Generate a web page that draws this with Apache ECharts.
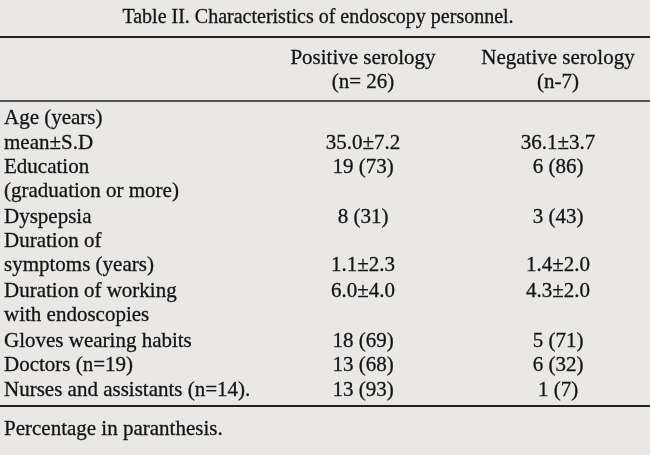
<!DOCTYPE html>
<html><head><meta charset="utf-8">
<script src="https://cdn.jsdelivr.net/npm/echarts@6/dist/echarts.min.js"></script>
<style>html,body{margin:0;background:#e9e8e6}#c{width:650px;height:455px}</style>
</head><body><div id="c"></div>
<script>
const title = 'Table II. Characteristics of endoscopy personnel.';
const headers = [['Positive serology', '(n= 26)'], ['Negative serology', '(n-7)']];
const rowLabels = ['Age (years)', 'mean±S.D', 'Education', '(graduation or more)', 'Dyspepsia',
  'Duration of', 'symptoms (years)', 'Duration of working', 'with endoscopies',
  'Gloves wearing habits', 'Doctors (n=19)', 'Nurses and assistants (n=14).'];
const positive = ['', '35.0±7.2', '19 (73)', '', '8 (31)', '', '1.1±2.3', '6.0±4.0', '', '18 (69)', '13 (68)', '13 (93)'];
const negative = ['', '36.1±3.7', '6 (86)', '', '3 (43)', '', '1.4±2.0', '4.3±2.0', '', '5 (71)', '6 (32)', '1 (7)'];
const footnote = 'Percentage in paranthesis.';

const rowY = [118, 143, 167, 191, 217, 241, 265, 291, 315, 341, 365, 390];
const colX = [363, 558];
const font = '21px "Liberation Serif", "DejaVu Serif", serif';
const titleFont = '20px "Liberation Serif", "DejaVu Serif", serif';
const ink = '#141414';

function txt(s, x, y, align, f) {
  return { type: 'text', x: x, y: y, style: { text: s, font: f || font, fill: ink, stroke: ink, lineWidth: 0.3, align: align || 'left', verticalAlign: 'middle' } };
}
function hline(y, w) {
  return { type: 'line', shape: { x1: 0, y1: y, x2: 650, y2: y }, style: { stroke: '#222', lineWidth: w } };
}

const els = [txt(title, 318, 18, 'center', titleFont), hline(37, 2), hline(101, 1.5), hline(406, 2)];
headers.forEach((h, i) => {
  els.push(txt(h[0], colX[i], 58, 'center'));
  els.push(txt(h[1], colX[i], 82, 'center'));
});
rowLabels.forEach((l, i) => {
  els.push(txt(l, 4, rowY[i]));
  if (positive[i]) els.push(txt(positive[i], colX[0], rowY[i], 'center'));
  if (negative[i]) els.push(txt(negative[i], colX[1], rowY[i], 'center'));
});
els.push(txt(footnote, 4, 429));

const chart = echarts.init(document.getElementById('c'));
chart.setOption({ backgroundColor: '#e9e8e6', graphic: els });
</script></body></html>
